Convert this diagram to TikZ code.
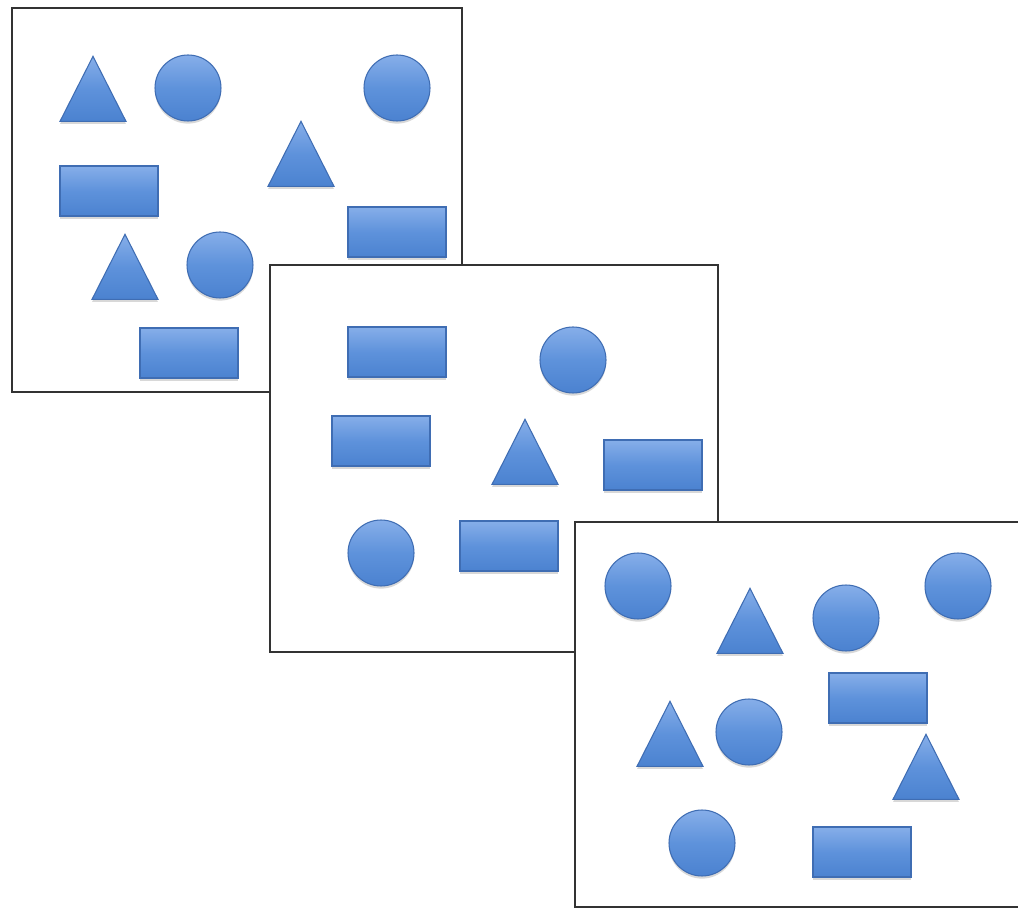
\documentclass[tikz,border=0pt]{standalone}
\usetikzlibrary{shapes.geometric,shadows}
\definecolor{bluetop}{HTML}{86AEE9}
\definecolor{bluemid}{HTML}{5E92DB}
\definecolor{bluebot}{HTML}{4B82D0}
\definecolor{blueedge}{HTML}{3F6DB3}

\begin{document}
\begin{tikzpicture}[x=0.02cm,y=-0.02cm,panel/.style={draw=black!80,line width=1.4pt,fill=white},blob/.style={draw=blueedge,line width=0.6pt,top color=bluetop,bottom color=bluebot,middle color=bluemid,inner sep=0pt,drop shadow={opacity=0.3,shadow xshift=0pt,shadow yshift=-1.5pt}},disc/.style={blob,circle,minimum size=1.32cm},block/.style={blob,rectangle,minimum width=1.96cm,minimum height=1cm},wedge/.style={blob,isosceles triangle,isosceles triangle stretches,shape border rotate=90,minimum width=1.32cm,minimum height=1.3cm,anchor=apex}]
  \useasboundingbox (0,0) rectangle (1018,911);
  % back panel
  \draw[panel] (12,8) rectangle (462,392);
  \node[wedge] (backtriA) at (93,55) {};
  \node[disc] (backdiscA) at (188,88) {};
  \node[disc] (backdiscB) at (397,88) {};
  \node[wedge] (backtriB) at (301,120) {};
  \node[block] (backblockA) at (109,191) {};
  \node[block] (backblockB) at (397,232) {};
  \node[wedge] (backtriC) at (125,233) {};
  \node[disc] (backdiscC) at (220,265) {};
  \node[block] (backblockC) at (189,353) {};
  % middle panel
  \draw[panel] (270,265) rectangle (718,652);
  \node[block] (midblockA) at (397,352) {};
  \node[disc] (middiscA) at (573,360) {};
  \node[block] (midblockB) at (381,441) {};
  \node[wedge] (midtri) at (525,418) {};
  \node[block] (midblockC) at (653,465) {};
  \node[disc] (middiscB) at (381,553) {};
  \node[block] (midblockD) at (509,546) {};
  % front panel
  \draw[panel] (575,522) rectangle (1040,907);
  \node[disc] (frontdiscA) at (638,586) {};
  \node[wedge] (fronttriA) at (750,587) {};
  \node[disc] (frontdiscB) at (846,618) {};
  \node[disc] (frontdiscC) at (958,586) {};
  \node[block] (frontblockA) at (878,698) {};
  \node[wedge] (fronttriB) at (670,700) {};
  \node[disc] (frontdiscD) at (749,732) {};
  \node[wedge] (fronttriC) at (926,733) {};
  \node[disc] (frontdiscE) at (702,843) {};
  \node[block] (frontblockB) at (862,852) {};
\end{tikzpicture}
\end{document}
